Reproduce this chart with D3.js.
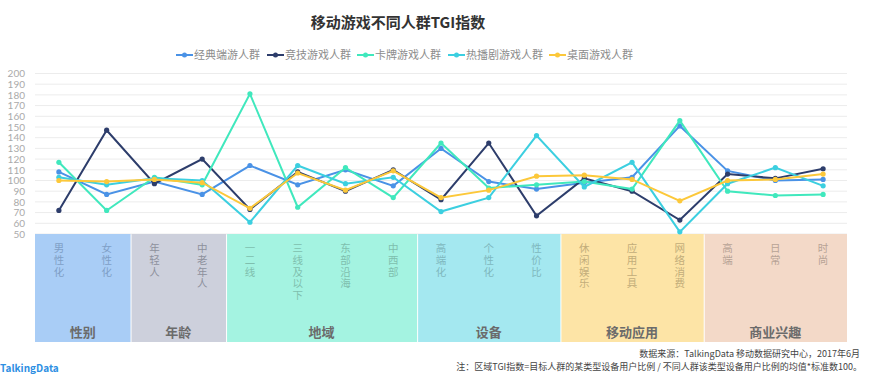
<!DOCTYPE html>
<html><head><meta charset="utf-8">
<script src="https://cdn.jsdelivr.net/npm/d3@7/dist/d3.min.js"></script>
<style>body{margin:0;background:#fff}svg{display:block;font-family:"Noto Sans CJK SC","Noto Sans",sans-serif}</style>
</head><body><svg id="c" width="870" height="374"></svg>
<script>
const title = "移动游戏不同人群TGI指数";
const categories = ["男性化","女性化","年轻人","中老年人","一二线","三线及以下","东部沿海","中西部","高端化","个性化","性价比","休闲娱乐","应用工具","网络消费","高端","日常","时尚"];
const groupNames = ["性别","年龄","地域","设备","移动应用","商业兴趣"];
const groupSizes = [2,2,4,3,3,3];
const seriesNames = ["经典端游人群","竞技游戏人群","卡牌游戏人群","热播剧游戏人群","桌面游戏人群"];
const classicPC = [108, 87, 99, 87, 114, 96, 110, 95, 130, 99, 92, 98, 103, 151, 109, 100, 101];
const competitive = [72, 147, 97, 120, 73, 108, 90, 110, 82, 135, 67, 102, 90, 63, 106, 102, 111];
const cardGame = [117, 72, 103, 96, 181, 75, 112, 84, 135, 93, 96, 99, 92, 156, 90, 86, 87];
const tvDrama = [103, 96, 102, 100, 61, 114, 97, 103, 71, 84, 142, 94, 117, 52, 97, 112, 95];
const tabletop = [100, 99, 101, 98, 74, 107, 91, 109, 84, 91, 104, 105, 101, 81, 100, 101, 106];
const yTicks = [50,60,70,80,90,100,110,120,130,140,150,160,170,180,190,200];
const sourceNote = "数据来源：TalkingData 移动数据研究中心，2017年6月";
const formulaNote = "注：区域TGI指数=目标人群的某类型设备用户比例 / 不同人群该类型设备用户比例的均值*标准数100。";

const seriesValues = [classicPC, competitive, cardGame, tvDrama, tabletop];
const colors = ["#4a92e6","#2d3d6b","#40e8bd","#3ccfe0","#fcc83a"];
const bandColors = ["#a9cdf6","#cdd0dc","#a4f3e1","#a4e8f0","#fde4a6","#f3d9c8"];
const labelColors = ["#7f9fc6","#8d909c","#7fbfae","#7fb8be","#c2ad7a","#b7a396"];

const svg = d3.select("#c");
const x = d3.scaleBand().domain(categories).range([35, 847]).padding(0);
const y = d3.scaleLinear().domain([50, 200]).range([234, 73.5]);
const cx = c => x(c) + x.bandwidth()/2;

// title
svg.append("text").attr("x", 398).attr("y", 28).attr("text-anchor","middle")
  .attr("font-size", 15).attr("font-weight","bold").attr("fill","#333").text(title);

// legend
const legendX = [176, 267, 357, 448, 549];
seriesNames.forEach((n,i)=>{
  const g = svg.append("g").attr("transform",`translate(${legendX[i]},55)`);
  g.append("line").attr("x1",0).attr("x2",17).attr("y1",0).attr("y2",0).attr("stroke",colors[i]).attr("stroke-width",2);
  g.append("circle").attr("cx",8.5).attr("cy",0).attr("r",2.5).attr("fill",colors[i]);
  g.append("text").attr("x",18).attr("y",4).attr("font-size",11).attr("fill","#8c8c8c").text(n);
});

// y grid + labels
const yAxis = d3.axisLeft(y).tickValues(yTicks).tickSize(0).tickPadding(0);
svg.append("g").selectAll("line").data(yTicks).join("line")
  .attr("x1",35).attr("x2",847).attr("y1",d=>y(d)).attr("y2",d=>y(d))
  .attr("stroke","#ececec").attr("stroke-width",1);
const ya = svg.append("g").attr("transform","translate(25,0)").call(yAxis);
ya.select(".domain").remove();
ya.selectAll("text").attr("font-size",10).attr("fill","#aaa").attr("font-family","Lato, 'Noto Sans', sans-serif");

// bands
let idx = 0;
groupSizes.forEach((s,gi)=>{
  const c0 = categories[idx], c1 = categories[idx+s-1];
  const x0 = x(c0), x1 = x(c1)+x.bandwidth();
  svg.append("rect").attr("x",x0+ (gi?1:0)).attr("y",234).attr("width",x1-x0-(gi?1:0)).attr("height",108).attr("fill",bandColors[gi]);
  svg.append("text").attr("x",(x0+x1)/2).attr("y",337).attr("text-anchor","middle")
    .attr("font-size",13).attr("font-weight","bold").attr("fill","#6b6b6b").text(groupNames[gi]);
  for(let k=idx;k<idx+s;k++){
    const chars = Array.from(categories[k]);
    const t = svg.append("text").attr("text-anchor","middle").attr("font-size",10.5)
      .attr("font-family","'Liberation Sans','Noto Sans CJK SC',sans-serif").attr("fill",labelColors[gi]);
    chars.forEach((ch,j)=>{
      t.append("tspan").attr("x",cx(categories[k])).attr("y",252+j*11.8).text(ch);
    });
  }
  idx += s;
});

// lines
const line = d3.line().x((d,i)=>cx(categories[i])).y(d=>y(d));
seriesValues.forEach((vals,i)=>{
  svg.append("path").datum(vals).attr("d",line).attr("fill","none").attr("stroke",colors[i]).attr("stroke-width",2);
  svg.append("g").selectAll("circle").data(vals).join("circle")
    .attr("cx",(d,j)=>cx(categories[j])).attr("cy",d=>y(d)).attr("r",2.6).attr("fill",colors[i]);
});

// footer
svg.append("text").attr("x",860).attr("y",357).attr("text-anchor","end").attr("font-size",9).attr("fill","#444").text(sourceNote);
svg.append("text").attr("x",862).attr("y",369.5).attr("text-anchor","end").attr("font-size",9).attr("fill","#444").text(formulaNote);
svg.append("text").attr("x",0).attr("y",372).attr("font-size",10).attr("font-weight","bold").attr("fill","#2d8fe3").text("TalkingData");
</script></body></html>
